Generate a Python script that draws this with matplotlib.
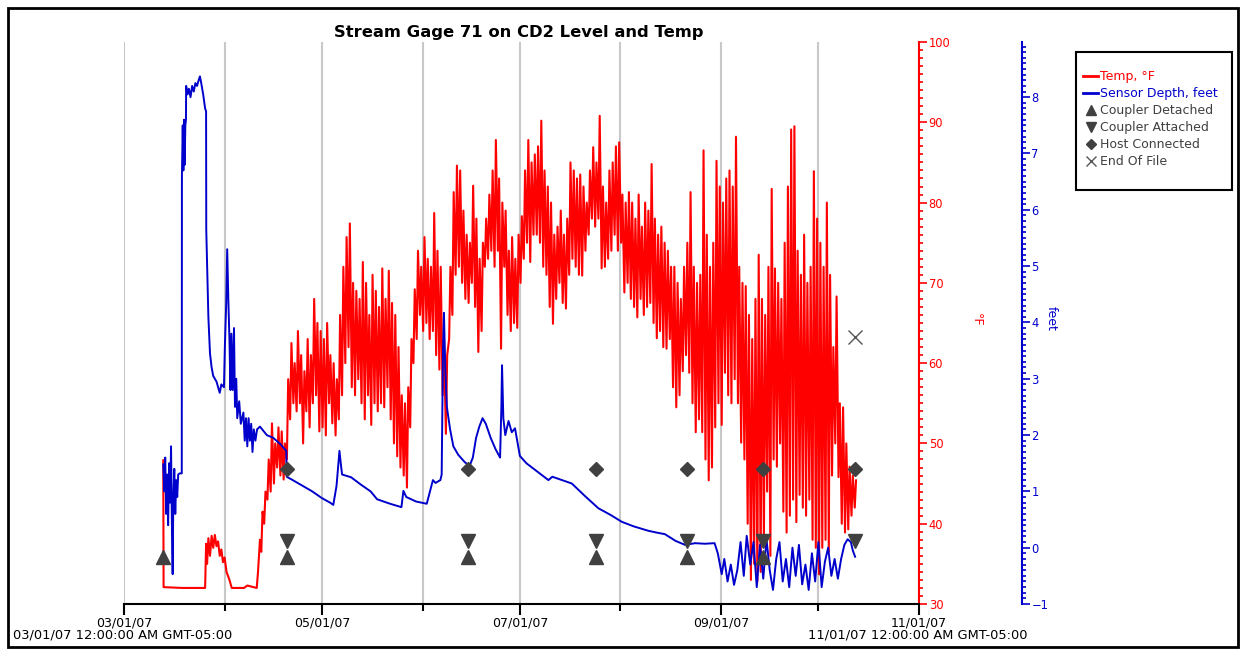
# Stream Gage 71 on CD2 - level and temperature, Mar-Nov 2007

import datetime as dt
import matplotlib
matplotlib.use('Agg')
import matplotlib.pyplot as plt
import matplotlib.dates as mdates
from matplotlib.patches import Rectangle
from matplotlib.lines import Line2D
from matplotlib.ticker import MultipleLocator, FixedLocator

START = dt.datetime(2007, 3, 1)
END = dt.datetime(2007, 11, 1)

# ---- data (days after 03/01/07) ----
# temperature while sensor was cold / just installed
early_days = [12.10, 12.20, 18.0, 25.0, 25.3, 25.6, 26.0, 26.5, 27.0, 27.5,
              28.0, 28.5, 29.0, 29.5, 30.0, 30.5, 31.0, 31.6, 32.5, 33.2,
              37.0, 38.0, 40.9, 41.3, 41.9, 42.3, 42.7]
early_temp = [47.9, 32.1, 32.0, 32.0, 37.5, 35.0, 38.2, 36.0, 38.5, 37.0,
              38.6, 37.2, 37.8, 36.0, 36.8, 35.2, 35.8, 34.0, 33.0, 32.0,
              32.0, 32.3, 32.0, 34.0, 38.0, 36.5, 41.5]

# daily low / high temperature, day 43 .. 225
first_day = 43
daily_low = [
    40, 43, 44, 45, 47, 46, 45.5, 48, 53, 55,
    54, 55, 50, 54, 52, 55, 56, 51.5, 52, 51,
    55, 52.5, 51, 53, 56, 60, 62, 57, 56, 58,
    55, 53, 56, 52.3, 55, 54, 55, 54.5, 57, 53,
    50, 48.4, 47, 46, 44.5, 52, 60, 63, 66, 64,
    65, 63, 64, 61, 59.2, 56, 51.2, 63, 66, 71,
    72, 70, 68, 67.5, 70, 67, 61.4, 64, 72, 73,
    74, 72, 74, 61.8, 72, 66, 64, 65, 64.4, 70,
    73, 75, 72.6, 76, 76, 75, 72, 71, 67, 64.9,
    68, 70, 67.5, 66.8, 71, 73, 72, 71, 70.9, 74,
    76, 78, 77, 78, 71.8, 72, 73, 74, 76, 74,
    75, 68.8, 70, 68, 67, 65.7, 68, 66, 67, 67.5,
    65, 63.1, 64, 62, 61.8, 63, 57, 54.5, 56, 59,
    61, 58.8, 55, 51.4, 53, 51.4, 48, 45.4, 47, 52,
    55, 52.3, 58.8, 56, 55, 58, 55, 50.1, 48, 40,
    33, 35, 32.8, 34, 38, 44, 36, 48, 47.1, 50,
    41.5, 38.9, 41, 43, 40.2, 43.6, 42, 41, 43, 38,
    37, 33.7, 37, 38, 36.5, 46, 50, 45.8, 40, 38.9,
    39.3, 41, 42]
daily_high = [
    44, 48, 52.5, 50, 52, 51.5, 50, 58, 62.5, 60,
    64, 61, 59, 63, 61, 68, 65, 64, 63, 65,
    61, 60, 58, 66, 72, 75.7, 77.4, 70, 69, 68,
    72.6, 70, 66, 71, 69, 67, 71.8, 68, 71.5, 67.5,
    66, 62, 56, 55, 57, 63, 69.2, 74, 72, 75.7,
    73, 72, 78.7, 74, 72, 63, 61, 72, 81.3, 84.6,
    84, 79, 76, 75, 82.1, 78, 73, 75, 78, 81,
    84, 87.8, 83, 80, 79, 74, 75.7, 73, 76, 78.3,
    84, 87.8, 85, 86, 87, 90.2, 84, 82, 80, 76,
    77, 79, 76, 78, 85, 84, 83, 83.5, 82, 80,
    84, 86.9, 85, 90.8, 82, 80, 84, 85, 87, 87.5,
    81, 80, 81.3, 80, 78, 81, 77, 80, 79, 84.8,
    78, 76, 77, 75, 74, 72, 72, 70, 68, 72,
    75, 81.3, 72, 70, 71, 86.5, 76, 72, 75, 85.2,
    82, 80, 83, 84, 82, 88.2, 72, 70, 69.6, 66,
    63, 68, 73.5, 68, 66, 72, 81.7, 71.8, 70, 68,
    75, 82, 89.1, 89.5, 74, 71, 76, 70, 72, 83.9,
    78, 75, 72, 80, 71, 62, 68.3, 55, 54.5, 50,
    47.1, 46, 45.4]

# sensor depth, feet
depth_days = [
    12.1, 12.4, 12.7, 13.0, 13.3, 13.6, 13.9, 14.2, 14.5, 14.8,
    15.0, 15.2, 15.5, 15.8, 16.1, 16.4, 16.7, 17.2, 17.8, 17.85,
    18.1, 18.3, 18.5, 18.7, 18.9, 19.1, 19.15, 19.6, 20.0, 20.5,
    21.0, 21.5, 22.0, 22.5, 23.0, 23.4, 23.8, 24.4, 25.0, 25.3,
    25.35, 26.0, 26.5, 27.0, 27.5, 28.5, 29.5, 30.0, 30.8, 31.1,
    31.5, 31.8, 32.2, 32.5, 32.8, 33.1, 33.5, 33.9, 34.2, 34.6,
    34.9, 35.5, 36.0, 36.8, 37.2, 37.6, 38.0, 38.4, 38.8, 39.2,
    39.6, 40.0, 40.5, 41.0, 41.9, 44.0, 46.0, 48.0, 50.0, 50.15,
    52.0, 55.0, 58.0, 61.0, 63.5, 64.5, 65.5, 66.4, 66.8, 67.2,
    70.0, 73.0, 76.0, 78.0, 82.0, 85.5, 86.1, 87.0, 90.0, 93.3,
    94.5, 95.2, 96.0, 97.5, 97.9, 98.3, 98.6, 99.0, 99.5, 100.5,
    101.5, 103.0, 105.0, 106.5, 107.5, 108.5, 109.5, 110.5, 111.5, 113.0,
    114.5, 115.9, 116.3, 116.5, 116.9, 117.5, 118.5, 119.5, 120.5, 122.0,
    124.0, 126.7, 128.5, 130.8, 132.0, 135.0, 138.0, 142.0, 146.2, 150.0,
    153.4, 157.0, 161.6, 164.0, 166.7, 170.0, 172.9, 176.0, 179.0, 182.0,
    183.0, 184.2, 185.0, 186.0, 187.0, 188.0, 189.0, 190.0, 191.0, 191.9,
    193.0, 194.0, 195.0, 196.0, 197.0, 198.0, 199.0, 200.0, 201.0, 202.0,
    203.0, 204.0, 205.0, 206.0, 207.0, 208.0, 209.0, 210.0, 211.0, 212.0,
    213.0, 214.0, 215.0, 216.0, 217.0, 218.0, 219.0, 220.0, 221.0, 222.0,
    223.0, 224.0, 224.6, 225.3]
depth_ft = [
    1.48, 1.0, 1.6, 0.6, 1.3, 0.4, 1.5, 0.8, 1.8, 0.2,
    -0.47, 0.9, 1.4, 0.6, 1.2, 0.9, 1.3, 1.32, 1.32, 6.6,
    7.5, 6.7, 7.6, 6.8, 7.5, 7.6, 8.2, 8.05, 8.15, 8.0,
    8.2, 8.1, 8.25, 8.2, 8.3, 8.37, 8.25, 8.05, 7.8, 7.75,
    5.65, 4.1, 3.45, 3.2, 3.05, 2.95, 2.75, 2.9, 2.85, 3.6,
    4.35, 5.3, 4.3, 3.7, 2.8, 3.8, 2.8, 3.9, 2.5, 3.0,
    2.3, 2.6, 2.2, 2.4, 1.9, 2.3, 1.8, 2.3, 1.9, 2.2,
    1.7, 2.1, 1.9, 2.1, 2.15, 2.0, 1.95, 1.85, 1.72, 1.26,
    1.2, 1.1, 1.0, 0.88, 0.8, 0.76, 1.1, 1.72, 1.5, 1.3,
    1.25, 1.12, 1.0, 0.86, 0.78, 0.72, 1.01, 0.9, 0.82, 0.78,
    1.05, 1.2, 1.15, 1.2, 1.3, 3.5, 4.17, 3.2, 2.5, 2.1,
    1.8, 1.65, 1.52, 1.45, 1.6, 1.95, 2.15, 2.3, 2.2, 1.95,
    1.75, 1.6, 2.5, 3.24, 2.3, 2.0, 2.25, 2.05, 2.12, 1.63,
    1.5, 1.38, 1.3, 1.2, 1.26, 1.2, 1.14, 0.92, 0.70, 0.58,
    0.46, 0.38, 0.30, 0.27, 0.24, 0.12, 0.05, 0.08, 0.07, 0.08,
    -0.1, -0.47, -0.2, -0.6, -0.3, -0.66, -0.4, 0.1, -0.5, 0.21,
    -0.3, 0.1, -0.7, 0.05, -0.55, 0.15, -0.4, -0.75, -0.2, 0.1,
    -0.6, -0.2, -0.7, 0.0, -0.5, 0.05, -0.65, -0.3, -0.75, -0.1,
    -0.6, 0.1, -0.7, -0.25, 0.0, -0.5, -0.2, -0.55, -0.2, 0.05,
    0.15, 0.1, -0.05, -0.16]

# logger events (day) and the level they are drawn at (feet)
detached_days = [12.1, 50.1, 106.1, 145.5, 173.4, 197.0]
attached_days = [50.1, 106.1, 145.5, 173.4, 197.0, 225.3]
host_days = [50.1, 106.1, 145.5, 173.4, 197.0, 225.3]
eof_days = [225.3]
detached_level = -0.16
attached_level = 0.12
host_level = 1.40
eof_level = 3.75

RED = '#ff0000'
BLUE = '#0000cc'
MARK = '#404040'
W, H = 1244, 651
FS = 9


def to_dates(days):
    return [START + dt.timedelta(days=d) for d in days]


# build the temperature trace: early part, then low/high for each day
temp_days = list(early_days)
temp_vals = list(early_temp)
for i, (lo, hi) in enumerate(zip(daily_low, daily_high)):
    d = first_day + i
    temp_days += [d + 0.2, d + 0.6]
    temp_vals += [lo, hi]

fig = plt.figure(figsize=(W / 100, H / 100), dpi=100)
ax = fig.add_axes([124 / W, 1 - 604 / H, 795 / W, 562 / H])
ax2 = ax.twinx()

# month grid lines
months = [dt.datetime(2007, m, 1) for m in range(3, 12)]
for m in months:
    ax.axvline(m, color='#c8c8c8', lw=1.5, zorder=0)

ax.plot(to_dates(temp_days), temp_vals, color=RED, lw=1.5, zorder=2)
ax2.plot(to_dates(depth_days), depth_ft, color=BLUE, lw=1.4, zorder=2)

mk = dict(color=MARK, linestyle='none', zorder=5, clip_on=False)
ax2.plot(to_dates(detached_days), [detached_level] * len(detached_days), marker='^', ms=10, **mk)
ax2.plot(to_dates(attached_days), [attached_level] * len(attached_days), marker='v', ms=10, **mk)
ax2.plot(to_dates(host_days), [host_level] * len(host_days), marker='D', ms=7, **mk)
ax2.plot(to_dates(eof_days), [eof_level] * len(eof_days), marker='x', ms=10,
         mew=1.0, color='#555555', linestyle='none', zorder=5)

# x axis
ax.set_xlim(START, END)
ax.xaxis.set_major_locator(mdates.MonthLocator(bymonth=[3, 5, 7, 9, 11]))
ax.xaxis.set_minor_locator(mdates.MonthLocator(bymonth=[4, 6, 8, 10]))
ax.xaxis.set_major_formatter(mdates.DateFormatter('%m/%d/%y'))
ax.tick_params(axis='x', which='major', length=8, width=1.5, labelsize=FS, pad=1)
ax.tick_params(axis='x', which='minor', length=5, width=1.5)

# temperature axis (right spine of main axes)
ax.set_ylim(30, 100)
ax.yaxis.tick_right()
ax.yaxis.set_major_locator(MultipleLocator(10))
ax.yaxis.set_minor_locator(MultipleLocator(1))
ax.tick_params(axis='y', which='both', colors=RED, width=1.2, labelsize=8.3, pad=1)
ax.tick_params(axis='y', which='major', length=6)
ax.tick_params(axis='y', which='minor', length=3)

# depth axis, offset to the right
ax2.set_ylim(-1, 8.98)
ax2.yaxis.set_major_locator(FixedLocator(range(-1, 9)))
ax2.yaxis.set_minor_locator(MultipleLocator(0.1))
ax2.tick_params(axis='y', which='both', colors=BLUE, width=1.2, labelsize=8.3, pad=1)
ax2.tick_params(axis='y', which='major', length=6)
ax2.tick_params(axis='y', which='minor', length=3)
ax2.spines['right'].set_position(('outward', 74))

for a in (ax, ax2):
    a.spines['top'].set_visible(False)
    a.spines['left'].set_visible(False)
ax2.spines['bottom'].set_visible(False)
ax.spines['bottom'].set_linewidth(1.5)
ax.spines['right'].set_color(RED)
ax.spines['right'].set_linewidth(1.5)
ax2.spines['right'].set_color(BLUE)
ax2.spines['right'].set_linewidth(1.5)
ax.patch.set_visible(False)

# labels and title
fig.text(519 / W, 1 - 32 / H, 'Stream Gage 71 on CD2 Level and Temp',
         ha='center', va='center', fontsize=11.8, fontweight='bold')
fig.text(976 / W, 1 - 320 / H, '°F', rotation=270, color=RED,
         ha='center', va='center', fontsize=FS)
fig.text(1051 / W, 1 - 318 / H, 'feet', rotation=270, color=BLUE,
         ha='center', va='center', fontsize=FS)
fig.text(13 / W, 1 - 635 / H, '03/01/07 12:00:00 AM GMT-05:00',
         ha='left', va='center', fontsize=9.4)
fig.text(1028 / W, 1 - 635 / H, '11/01/07 12:00:00 AM GMT-05:00',
         ha='right', va='center', fontsize=9.4)

# legend in its own box
fig.patches.append(Rectangle((1076 / W, 1 - 190 / H), 156 / W, 138 / H,
                             transform=fig.transFigure, fill=False,
                             ec='black', lw=1.5))
handles = [
    Line2D([], [], color=RED, lw=2),
    Line2D([], [], color=BLUE, lw=2),
    Line2D([], [], color=MARK, marker='^', ms=7, ls='none'),
    Line2D([], [], color=MARK, marker='v', ms=7, ls='none'),
    Line2D([], [], color=MARK, marker='D', ms=5, ls='none'),
    Line2D([], [], color='#555555', marker='x', ms=7, mew=1, ls='none'),
]
labels = ['Temp, °F', 'Sensor Depth, feet', 'Coupler Detached',
          'Coupler Attached', 'Host Connected', 'End Of File']
fig.legend(handles, labels, loc='upper left',
           bbox_to_anchor=(1083 / W, 1 - 70 / H), frameon=False,
           fontsize=FS, handlelength=1.2, handletextpad=0.15,
           labelspacing=0.32, borderpad=0, borderaxespad=0,
           labelcolor=[RED, BLUE, MARK, MARK, MARK, MARK])

# outer frame
fig.patches.append(Rectangle((8 / W, 4 / H), 1230 / W, 639 / H,
                             transform=fig.transFigure, fill=False,
                             ec='black', lw=2))

fig.savefig('out.png', dpi=100, facecolor='white')
